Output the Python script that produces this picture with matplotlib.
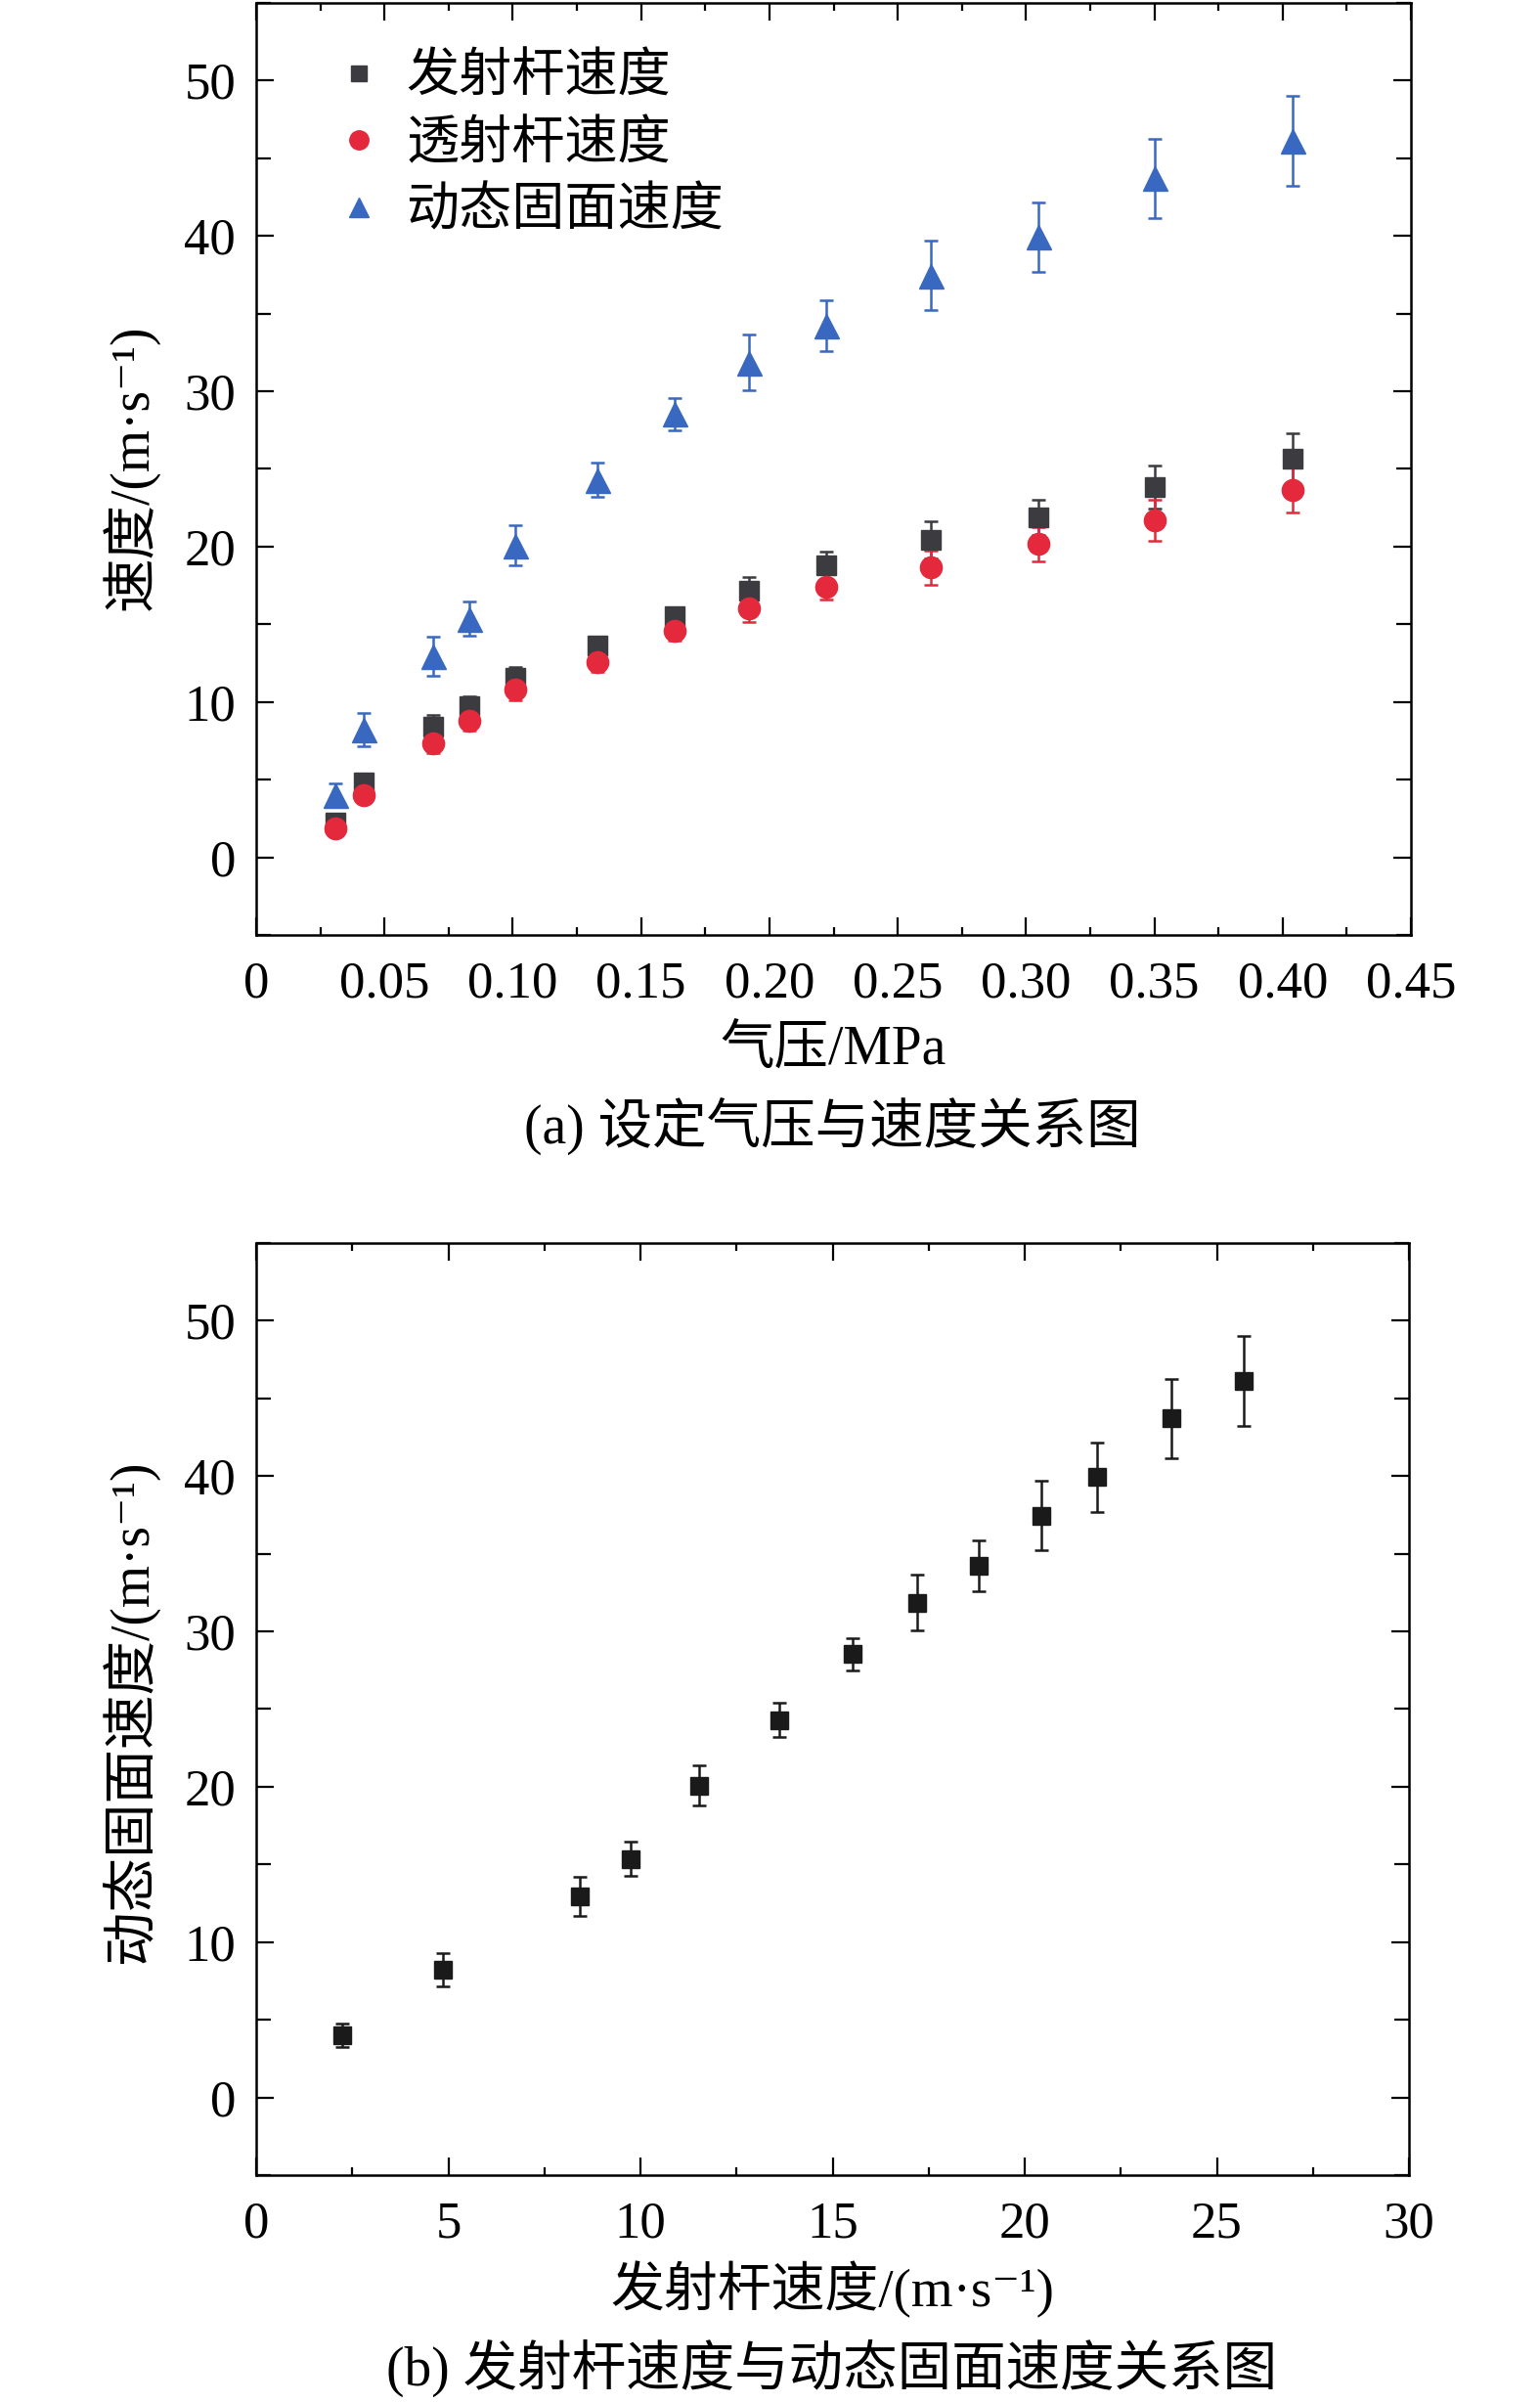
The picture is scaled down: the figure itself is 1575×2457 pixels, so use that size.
import matplotlib
matplotlib.use("Agg")
import matplotlib.pyplot as plt
from matplotlib.lines import Line2D
from matplotlib.ticker import MultipleLocator, FixedLocator

plt.rcParams['font.family'] = ['Liberation Serif', 'Noto Sans CJK SC', 'DejaVu Serif']

# ---- data ----
pressure = [0.031, 0.042, 0.069, 0.083, 0.101, 0.133, 0.163, 0.192, 0.222, 0.263, 0.305, 0.350, 0.404]
launch_v = [2.25, 4.85, 8.43, 9.74, 11.53, 13.61, 15.52, 17.19, 18.80, 20.42, 21.88, 23.82, 25.69]
launch_err = [0.3, 0.35, 0.75, 0.6, 0.73, 0.6, 0.5, 0.86, 0.86, 1.2, 1.15, 1.37, 1.6]
trans_v = [1.88, 4.03, 7.33, 8.76, 10.83, 12.56, 14.55, 16.05, 17.43, 18.66, 20.16, 21.70, 23.66]
trans_err = [0.46, 0.5, 0.65, 0.6, 0.7, 0.6, 0.6, 0.88, 0.85, 1.11, 1.11, 1.3, 1.46]
face_v = [4.0, 8.2, 12.96, 15.36, 20.07, 24.29, 28.53, 31.84, 34.24, 37.44, 39.94, 43.70, 46.1]
face_err = [0.77, 1.08, 1.25, 1.08, 1.29, 1.09, 1.04, 1.8, 1.63, 2.23, 2.23, 2.57, 2.9]

labels = ['发射杆速度', '透射杆速度', '动态固面速度']
xticks_a = [0, 0.05, 0.10, 0.15, 0.20, 0.25, 0.30, 0.35, 0.40, 0.45]
xticklabels_a = ['0', '0.05', '0.10', '0.15', '0.20', '0.25', '0.30', '0.35', '0.40', '0.45']
yticks = [0, 10, 20, 30, 40, 50]
xticks_b = [0, 5, 10, 15, 20, 25, 30]

c_black = '#3b3b40'
c_red = '#e5293c'
c_blue = '#3868bf'
c_b = '#1a1a1a'

TICK = 38
W, H = 1575, 2457
fig = plt.figure(figsize=(W / 100, H / 100), dpi=100)

axA = fig.add_axes([262 / W, 1 - 956 / H, (1443 - 262) / W, (956 - 3) / H])
axB = fig.add_axes([262 / W, 1 - 2224 / H, (1441 - 262) / W, (2224 - 1271) / H])


def style(ax):
    for s in ax.spines.values():
        s.set_linewidth(1.8)
    ax.tick_params(which='both', direction='in', top=True, right=True, width=1.6)
    ax.tick_params(axis='x', which='major', length=13, pad=19, labelsize=TICK)
    ax.tick_params(axis='x', which='minor', length=6)
    ax.tick_params(axis='y', which='major', length=13, pad=15, labelsize=TICK)
    ax.tick_params(axis='y', which='minor', length=11)
    ax.set_ylim(-5, 55)
    ax.yaxis.set_major_locator(FixedLocator(yticks))
    ax.yaxis.set_minor_locator(MultipleLocator(5))


# ---- panel a ----
ekw = dict(elinewidth=1.8, capsize=5, capthick=1.8, linestyle='none')
axA.errorbar(pressure, launch_v, yerr=launch_err, marker='s', ms=14, color=c_black, ecolor=c_black, **ekw)
axA.errorbar(pressure, trans_v, yerr=trans_err, marker='o', ms=16, color=c_red, ecolor=c_red, **ekw)
axA.errorbar(pressure, face_v, yerr=face_err, marker='^', ms=18, color=c_blue, ecolor=c_blue, **ekw)
style(axA)
axA.set_xlim(0, 0.45)
axA.set_xticks(xticks_a)
axA.set_xticklabels(xticklabels_a)
axA.xaxis.set_minor_locator(MultipleLocator(0.025))

handles = [Line2D([], [], marker='s', ms=12, color=c_black, ls='none'),
           Line2D([], [], marker='o', ms=14, color=c_red, ls='none'),
           Line2D([], [], marker='^', ms=15, color=c_blue, ls='none')]
axA.legend(handles, labels, loc='upper left', bbox_to_anchor=(0.068, 0.945), frameon=False,
           fontsize=39, handlelength=0.9, handletextpad=0.45, labelspacing=0.33,
           borderaxespad=0, borderpad=0)

# ---- panel b ----
axB.errorbar(launch_v, face_v, yerr=face_err, marker='s', ms=13, color=c_b, ecolor=c_b, **ekw)
style(axB)
axB.set_xlim(0, 30)
axB.set_xticks(xticks_b)
axB.xaxis.set_minor_locator(MultipleLocator(2.5))

# ---- labels ----
fig.text(133 / W, 1 - 478 / H, '速度/(m·s⁻¹)', rotation=90, ha='center', va='center', fontsize=40)
fig.text(852 / W, 1 - 1075 / H, '气压/MPa', ha='center', va='center', fontsize=40)
fig.text(851 / W, 1 - 1152 / H, '(a) 设定气压与速度关系图', ha='center', va='center', fontsize=40)
fig.text(133 / W, 1 - 1750 / H, '动态固面速度/(m·s⁻¹)', rotation=90, ha='center', va='center', fontsize=40)
fig.text(851 / W, 1 - 2341 / H, '发射杆速度/(m·s⁻¹)', ha='center', va='center', fontsize=39.5)
fig.text(851 / W, 1 - 2421 / H, '(b) 发射杆速度与动态固面速度关系图', ha='center', va='center', fontsize=40)

fig.savefig('out.png', dpi=100)
